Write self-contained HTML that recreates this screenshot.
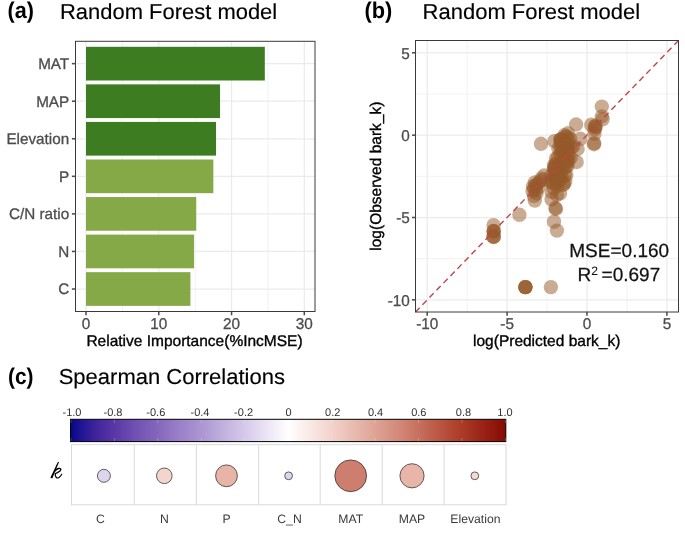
<!DOCTYPE html>
<html>
<head>
<meta charset="utf-8">
<title>Random Forest model figure</title>
<style>
html,body{margin:0;padding:0;background:#fff;}
body{width:685px;height:538px;overflow:hidden;font-family:"Liberation Sans",sans-serif;}
svg{display:block;will-change:transform;}
svg text{font-family:"Liberation Sans",sans-serif;text-rendering:geometricPrecision;}
.tk{fill:#4d4d4d;font-size:15.3px;stroke:#4d4d4d;stroke-width:0.3px;}
.tky{fill:#4d4d4d;font-size:15.25px;stroke:#4d4d4d;stroke-width:0.3px;}
.ax{fill:#000;font-size:15.5px;stroke:#000;stroke-width:0.35px;}
.ttl{fill:#000;font-size:21.6px;stroke:#000;stroke-width:0.15px;}
.ttlb{fill:#000;font-size:22.8px;font-weight:bold;}
.grid{stroke:#ebebeb;stroke-width:1.25;fill:none;}
.gridm{stroke:#efefef;stroke-width:0.8;fill:none;}
.tick{stroke:#4d4d4d;stroke-width:1.55;fill:none;}
.cb{fill:#333;font-size:11px;}
.cl{fill:#3a3a3a;font-size:12.2px;}
.pt{fill:#96592a;fill-opacity:0.5;}
</style>
</head>
<body>
<svg width="685" height="538" viewBox="0 0 685 538">
<defs>
<linearGradient id="cbar" x1="0" y1="0" x2="1" y2="0">
<stop offset="0" stop-color="#06068a"/>
<stop offset="0.035" stop-color="#2a1a95"/>
<stop offset="0.065" stop-color="#45279f"/>
<stop offset="0.1" stop-color="#5836a5"/>
<stop offset="0.15" stop-color="#7151b2"/>
<stop offset="0.2" stop-color="#8466bc"/>
<stop offset="0.25" stop-color="#9a80c8"/>
<stop offset="0.3" stop-color="#ab95d2"/>
<stop offset="0.35" stop-color="#c0b0de"/>
<stop offset="0.4" stop-color="#d5c9ea"/>
<stop offset="0.45" stop-color="#ebe4f5"/>
<stop offset="0.5" stop-color="#ffffff"/>
<stop offset="0.6" stop-color="#f3d3cb"/>
<stop offset="0.75" stop-color="#d48b7b"/>
<stop offset="0.88" stop-color="#b2442f"/>
<stop offset="1" stop-color="#860a02"/>
</linearGradient>
<clipPath id="clipb"><rect x="415.5" y="40.5" width="263" height="271.5"/></clipPath>
</defs>
<rect x="0" y="0" width="685" height="538" fill="#ffffff"/>

<g id="panel-a">
<text class="ttlb" x="7.6" y="18.3" textLength="26.4" lengthAdjust="spacingAndGlyphs">(a)</text>
<text class="ttl" x="60.0" y="19.3" textLength="217.2" lengthAdjust="spacingAndGlyphs">Random Forest model</text>
<g class="gridm">
<line x1="122.38" y1="41.3" x2="122.38" y2="311.5"/>
<line x1="195.16" y1="41.3" x2="195.16" y2="311.5"/>
<line x1="267.93" y1="41.3" x2="267.93" y2="311.5"/>
</g><g class="grid">
<line x1="86" y1="41.3" x2="86" y2="311.5"/>
<line x1="158.77" y1="41.3" x2="158.77" y2="311.5"/>
<line x1="231.54" y1="41.3" x2="231.54" y2="311.5"/>
<line x1="304.31" y1="41.3" x2="304.31" y2="311.5"/>
<line x1="75.5" y1="63.65" x2="315" y2="63.65"/>
<line x1="75.5" y1="101.21" x2="315" y2="101.21"/>
<line x1="75.5" y1="138.77" x2="315" y2="138.77"/>
<line x1="75.5" y1="176.33" x2="315" y2="176.33"/>
<line x1="75.5" y1="213.89" x2="315" y2="213.89"/>
<line x1="75.5" y1="251.45" x2="315" y2="251.45"/>
<line x1="75.5" y1="289.01" x2="315" y2="289.01"/>
</g>
<rect x="86" y="46.8" width="178.8" height="33.7" fill="#3e7c22"/>
<rect x="86" y="84.36" width="134.04" height="33.7" fill="#3e7c22"/>
<rect x="86" y="121.92" width="130.04" height="33.7" fill="#3e7c22"/>
<rect x="86" y="159.48" width="127.35" height="33.7" fill="#85a947"/>
<rect x="86" y="197.04" width="110.25" height="33.7" fill="#85a947"/>
<rect x="86" y="234.6" width="108.06" height="33.7" fill="#85a947"/>
<rect x="86" y="272.16" width="104.42" height="33.7" fill="#85a947"/>
<rect x="75.5" y="41.3" width="239.5" height="270.2" fill="none" stroke="#3a3a3a" stroke-width="1"/>
<g class="tick">
<line x1="71.9" y1="63.65" x2="75.5" y2="63.65"/>
<line x1="71.9" y1="101.21" x2="75.5" y2="101.21"/>
<line x1="71.9" y1="138.77" x2="75.5" y2="138.77"/>
<line x1="71.9" y1="176.33" x2="75.5" y2="176.33"/>
<line x1="71.9" y1="213.89" x2="75.5" y2="213.89"/>
<line x1="71.9" y1="251.45" x2="75.5" y2="251.45"/>
<line x1="71.9" y1="289.01" x2="75.5" y2="289.01"/>
<line x1="86" y1="311.5" x2="86" y2="315.3"/>
<line x1="158.77" y1="311.5" x2="158.77" y2="315.3"/>
<line x1="231.54" y1="311.5" x2="231.54" y2="315.3"/>
<line x1="304.31" y1="311.5" x2="304.31" y2="315.3"/>
</g>
<g class="tky" text-anchor="end">
<text x="69.2" y="68.95">MAT</text>
<text x="69.2" y="106.51">MAP</text>
<text x="69.2" y="144.07">Elevation</text>
<text x="69.2" y="181.63">P</text>
<text x="69.2" y="219.19">C/N ratio</text>
<text x="69.2" y="256.75">N</text>
<text x="69.2" y="294.31">C</text>
</g>
<g class="tk" text-anchor="middle">
<text transform="translate(86,328.8) scale(1,1.02)">0</text>
<text transform="translate(158.77,328.8) scale(1,1.02)">10</text>
<text transform="translate(231.54,328.8) scale(1,1.02)">20</text>
<text transform="translate(304.31,328.8) scale(1,1.02)">30</text>
</g>
<text class="ax" x="86.4" y="346.4">Relative Importance(%IncMSE)</text>
</g>
<g id="panel-b">
<text class="ttlb" x="364.4" y="18.2" textLength="27.8" lengthAdjust="spacingAndGlyphs">(b)</text>
<text class="ttl" x="422.6" y="19.1" textLength="217.6" lengthAdjust="spacingAndGlyphs">Random Forest model</text>
<g class="gridm">
<line x1="467.15" y1="40.5" x2="467.15" y2="312"/>
<line x1="415.5" y1="258.68" x2="678.5" y2="258.68"/>
<line x1="547.05" y1="40.5" x2="547.05" y2="312"/>
<line x1="415.5" y1="176.32" x2="678.5" y2="176.32"/>
<line x1="626.95" y1="40.5" x2="626.95" y2="312"/>
<line x1="415.5" y1="93.98" x2="678.5" y2="93.98"/>
</g><g class="grid">
<line x1="427.2" y1="40.5" x2="427.2" y2="312"/>
<line x1="415.5" y1="299.85" x2="678.5" y2="299.85"/>
<line x1="507.1" y1="40.5" x2="507.1" y2="312"/>
<line x1="415.5" y1="217.5" x2="678.5" y2="217.5"/>
<line x1="587" y1="40.5" x2="587" y2="312"/>
<line x1="415.5" y1="135.15" x2="678.5" y2="135.15"/>
<line x1="666.9" y1="40.5" x2="666.9" y2="312"/>
<line x1="415.5" y1="52.8" x2="678.5" y2="52.8"/>
</g>
<g class="pt" clip-path="url(#clipb)">
<circle cx="601.8" cy="106.6" r="7.2"/>
<circle cx="601.8" cy="116.5" r="7.2"/>
<circle cx="602.6" cy="119.3" r="7.2"/>
<circle cx="591.2" cy="124.8" r="7.2"/>
<circle cx="595.3" cy="125.8" r="7.2"/>
<circle cx="595" cy="126.6" r="7.2"/>
<circle cx="595.6" cy="127.4" r="7.2"/>
<circle cx="594.7" cy="129.5" r="7.2"/>
<circle cx="594.4" cy="133.8" r="7.2"/>
<circle cx="594" cy="144.2" r="7.2"/>
<circle cx="594.2" cy="143.2" r="7.2"/>
<circle cx="576.1" cy="124.5" r="7.2"/>
<circle cx="580.4" cy="138.8" r="7.2"/>
<circle cx="577.6" cy="149" r="7.2"/>
<circle cx="576.7" cy="162" r="7.2"/>
<circle cx="554.4" cy="141.2" r="7.2"/>
<circle cx="541" cy="143.8" r="7.2"/>
<circle cx="568" cy="133.3" r="7.2"/>
<circle cx="564.6" cy="135.2" r="7.2"/>
<circle cx="567" cy="136.5" r="7.2"/>
<circle cx="565.36" cy="136.94" r="7.2"/>
<circle cx="570.09" cy="138.59" r="7.2"/>
<circle cx="568.19" cy="140.06" r="7.2"/>
<circle cx="560.85" cy="139.56" r="7.2"/>
<circle cx="560.36" cy="139.92" r="7.2"/>
<circle cx="560.67" cy="139.4" r="7.2"/>
<circle cx="565.82" cy="144.41" r="7.2"/>
<circle cx="561.13" cy="141.59" r="7.2"/>
<circle cx="568.51" cy="147.11" r="7.2"/>
<circle cx="567.59" cy="145.45" r="7.2"/>
<circle cx="573.4" cy="146.27" r="7.2"/>
<circle cx="571.46" cy="147.53" r="7.2"/>
<circle cx="560.57" cy="144.9" r="7.2"/>
<circle cx="562.86" cy="149.04" r="7.2"/>
<circle cx="560.77" cy="148.35" r="7.2"/>
<circle cx="567.46" cy="149.96" r="7.2"/>
<circle cx="565.92" cy="149.11" r="7.2"/>
<circle cx="558.43" cy="148.59" r="7.2"/>
<circle cx="567.56" cy="152.53" r="7.2"/>
<circle cx="561.89" cy="152.52" r="7.2"/>
<circle cx="563.81" cy="152.63" r="7.2"/>
<circle cx="568.75" cy="156.23" r="7.2"/>
<circle cx="560.32" cy="154.4" r="7.2"/>
<circle cx="564.36" cy="157.39" r="7.2"/>
<circle cx="567.25" cy="156.54" r="7.2"/>
<circle cx="570.84" cy="157.53" r="7.2"/>
<circle cx="562.23" cy="158.71" r="7.2"/>
<circle cx="558.07" cy="157.37" r="7.2"/>
<circle cx="556.2" cy="158.39" r="7.2"/>
<circle cx="566.91" cy="161.46" r="7.2"/>
<circle cx="568.39" cy="161.57" r="7.2"/>
<circle cx="565.52" cy="162.74" r="7.2"/>
<circle cx="563.61" cy="162.49" r="7.2"/>
<circle cx="567.34" cy="166.15" r="7.2"/>
<circle cx="561.67" cy="164.38" r="7.2"/>
<circle cx="555.3" cy="163.71" r="7.2"/>
<circle cx="563.92" cy="167.81" r="7.2"/>
<circle cx="566.37" cy="166.36" r="7.2"/>
<circle cx="559.65" cy="166.99" r="7.2"/>
<circle cx="554.03" cy="165.53" r="7.2"/>
<circle cx="556.04" cy="165.43" r="7.2"/>
<circle cx="554.23" cy="168.36" r="7.2"/>
<circle cx="555.11" cy="167.27" r="7.2"/>
<circle cx="558.86" cy="171.47" r="7.2"/>
<circle cx="554.03" cy="169.35" r="7.2"/>
<circle cx="560.88" cy="173.58" r="7.2"/>
<circle cx="564.76" cy="175.24" r="7.2"/>
<circle cx="556.47" cy="172.15" r="7.2"/>
<circle cx="557.5" cy="175.05" r="7.2"/>
<circle cx="566.31" cy="175.1" r="7.2"/>
<circle cx="554.41" cy="173.22" r="7.2"/>
<circle cx="555.1" cy="175.18" r="7.2"/>
<circle cx="560.26" cy="176.35" r="7.2"/>
<circle cx="551.31" cy="175.51" r="7.2"/>
<circle cx="556.61" cy="178.2" r="7.2"/>
<circle cx="565.19" cy="181.62" r="7.2"/>
<circle cx="558.45" cy="180.42" r="7.2"/>
<circle cx="560.69" cy="179.5" r="7.2"/>
<circle cx="563.87" cy="183.97" r="7.2"/>
<circle cx="563.32" cy="184.68" r="7.2"/>
<circle cx="555.91" cy="182" r="7.2"/>
<circle cx="551.4" cy="182.59" r="7.2"/>
<circle cx="550.61" cy="180.9" r="7.2"/>
<circle cx="552.63" cy="182.56" r="7.2"/>
<circle cx="534.9" cy="182.4" r="7.2"/>
<circle cx="535.5" cy="185.5" r="7.2"/>
<circle cx="534.2" cy="188.5" r="7.2"/>
<circle cx="537.2" cy="184" r="7.2"/>
<circle cx="533" cy="186.5" r="7.2"/>
<circle cx="536" cy="190.3" r="7.2"/>
<circle cx="538.5" cy="187.5" r="7.2"/>
<circle cx="532.5" cy="191" r="7.2"/>
<circle cx="536.5" cy="193.5" r="7.2"/>
<circle cx="534.8" cy="200.6" r="7.2"/>
<circle cx="534" cy="196" r="7.2"/>
<circle cx="544.2" cy="175.5" r="7.2"/>
<circle cx="541.5" cy="178.5" r="7.2"/>
<circle cx="540" cy="181.5" r="7.2"/>
<circle cx="543" cy="180" r="7.2"/>
<circle cx="560" cy="193.5" r="7.2"/>
<circle cx="551.6" cy="191.8" r="7.2"/>
<circle cx="556.9" cy="195" r="7.2"/>
<circle cx="551.6" cy="199.4" r="7.2"/>
<circle cx="556" cy="209" r="7.2"/>
<circle cx="555.4" cy="208" r="7.2"/>
<circle cx="554" cy="221.7" r="7.2"/>
<circle cx="556.9" cy="230.6" r="7.2"/>
<circle cx="557" cy="186" r="7.2"/>
<circle cx="553.5" cy="188" r="7.2"/>
<circle cx="519.4" cy="214.8" r="7.2"/>
<circle cx="493.6" cy="225.2" r="7.2"/>
<circle cx="493.6" cy="231" r="7.2"/>
<circle cx="493.7" cy="231.5" r="7.2"/>
<circle cx="493.6" cy="236.8" r="7.2"/>
<circle cx="493.6" cy="236.4" r="7.2"/>
<circle cx="493.8" cy="231.2" r="7.2"/>
<circle cx="493.7" cy="237" r="7.2"/>
<circle cx="525.4" cy="287.1" r="7.2"/>
<circle cx="525.4" cy="287.1" r="7.2"/>
<circle cx="525.4" cy="287.1" r="7.2"/>
<circle cx="525.4" cy="287.1" r="7.2"/>
<circle cx="550.9" cy="287.1" r="7.2"/>
</g>
<line x1="415.5" y1="312" x2="678.5" y2="40.5" stroke="#c0444a" stroke-width="1.4" stroke-dasharray="6,4.054" stroke-dashoffset="0"/>
<rect x="415.5" y="40.5" width="263" height="271.5" fill="none" stroke="#3a3a3a" stroke-width="1"/>
<g class="tick">
<line x1="412" y1="299.85" x2="415.5" y2="299.85"/>
<line x1="427.2" y1="312" x2="427.2" y2="315.8"/>
<line x1="412" y1="217.5" x2="415.5" y2="217.5"/>
<line x1="507.1" y1="312" x2="507.1" y2="315.8"/>
<line x1="412" y1="135.15" x2="415.5" y2="135.15"/>
<line x1="587" y1="312" x2="587" y2="315.8"/>
<line x1="412" y1="52.8" x2="415.5" y2="52.8"/>
<line x1="666.9" y1="312" x2="666.9" y2="315.8"/>
</g>
<g class="tk" text-anchor="end">
<text transform="translate(409.8,58.6) scale(1,1.02)">5</text>
<text transform="translate(409.8,140.95) scale(1,1.02)">0</text>
<text transform="translate(409.8,223.3) scale(1,1.02)">-5</text>
<text transform="translate(409.8,305.65) scale(1,1.02)">-10</text>
</g>
<g class="tk" text-anchor="middle">
<text transform="translate(427.2,328.8) scale(1,1.02)">-10</text>
<text transform="translate(507.1,328.8) scale(1,1.02)">-5</text>
<text transform="translate(587,328.8) scale(1,1.02)">0</text>
<text transform="translate(666.9,328.8) scale(1,1.02)">5</text>
</g>
<text class="ax" x="546.7" y="346.3" text-anchor="middle">log(Predicted bark_k)</text>
<text class="ax" transform="translate(380.8,176.2) rotate(-90)" text-anchor="middle">log(Observed bark_k)</text>
<text x="569.3" y="257" font-size="19" fill="#111" stroke="#111" stroke-width="0.25">MSE=0.160</text>
<text x="577.6" y="281.4" font-size="19" fill="#111" stroke="#111" stroke-width="0.25">R</text>
<text x="591.2" y="275.2" font-size="12.2" fill="#111">2</text>
<text x="601.6" y="281.4" font-size="19" fill="#111" stroke="#111" stroke-width="0.25">=0.697</text>
</g>
<g id="panel-c">
<text class="ttlb" x="8.0" y="384" textLength="25.6" lengthAdjust="spacingAndGlyphs">(c)</text>
<text class="ttl" x="58.7" y="384.3" textLength="226.2" lengthAdjust="spacingAndGlyphs">Spearman Correlations</text>
<g class="cb" text-anchor="middle">
<text x="72" y="415.5">-1.0</text>
<text x="113" y="415.5">-0.8</text>
<text x="155.8" y="415.5">-0.6</text>
<text x="200" y="415.5">-0.4</text>
<text x="243.6" y="415.5">-0.2</text>
<text x="288.5" y="415.5">0</text>
<text x="332.7" y="415.5">0.2</text>
<text x="375.6" y="415.5">0.4</text>
<text x="418.8" y="415.5">0.6</text>
<text x="463.5" y="415.5">0.8</text>
<text x="505" y="415.5">1.0</text>
</g>
<rect x="70.5" y="419.3" width="435.3" height="22.3" fill="url(#cbar)" stroke="#000" stroke-width="1"/>
<g stroke="#ffffff" stroke-opacity="0.3" stroke-width="0.8">
<line x1="70.95" y1="419.8" x2="70.95" y2="423" /><line x1="70.95" y1="437.9" x2="70.95" y2="441.1" />
<line x1="114.4" y1="419.8" x2="114.4" y2="423" /><line x1="114.4" y1="437.9" x2="114.4" y2="441.1" />
<line x1="157.85" y1="419.8" x2="157.85" y2="423" /><line x1="157.85" y1="437.9" x2="157.85" y2="441.1" />
<line x1="201.3" y1="419.8" x2="201.3" y2="423" /><line x1="201.3" y1="437.9" x2="201.3" y2="441.1" />
<line x1="244.75" y1="419.8" x2="244.75" y2="423" /><line x1="244.75" y1="437.9" x2="244.75" y2="441.1" />
<line x1="288.2" y1="419.8" x2="288.2" y2="423" /><line x1="288.2" y1="437.9" x2="288.2" y2="441.1" />
<line x1="331.65" y1="419.8" x2="331.65" y2="423" /><line x1="331.65" y1="437.9" x2="331.65" y2="441.1" />
<line x1="375.1" y1="419.8" x2="375.1" y2="423" /><line x1="375.1" y1="437.9" x2="375.1" y2="441.1" />
<line x1="418.55" y1="419.8" x2="418.55" y2="423" /><line x1="418.55" y1="437.9" x2="418.55" y2="441.1" />
<line x1="462" y1="419.8" x2="462" y2="423" /><line x1="462" y1="437.9" x2="462" y2="441.1" />
<line x1="505.45" y1="419.8" x2="505.45" y2="423" /><line x1="505.45" y1="437.9" x2="505.45" y2="441.1" />
</g>
<g fill="none" stroke="#d9d9d9" stroke-width="1">
<rect x="71.5" y="444.7" width="434.5" height="60.1"/>
<line x1="134.3" y1="444.7" x2="134.3" y2="504.8"/>
<line x1="196.4" y1="444.7" x2="196.4" y2="504.8"/>
<line x1="258.7" y1="444.7" x2="258.7" y2="504.8"/>
<line x1="320.2" y1="444.7" x2="320.2" y2="504.8"/>
<line x1="382.2" y1="444.7" x2="382.2" y2="504.8"/>
<line x1="444.1" y1="444.7" x2="444.1" y2="504.8"/>
</g>
<g stroke="#222" stroke-width="0.7">
<circle cx="103.9" cy="475.8" r="6.5" fill="#ddd5ee"/>
<circle cx="164.3" cy="475.8" r="7.8" fill="#f3d5cd"/>
<circle cx="226.5" cy="475.8" r="10.9" fill="#e8b4a8"/>
<circle cx="288.6" cy="475.8" r="3.9" fill="#ddd5ee"/>
<circle cx="350.7" cy="475.8" r="15.9" fill="#cd7e6e"/>
<circle cx="412" cy="475.8" r="12.1" fill="#e9b5a8"/>
<circle cx="474.8" cy="475.8" r="3.9" fill="#f6d9d3"/>
</g>
<path d="M59.15 461.85 L57.7 462.25 L50.4 477.75 L52.3 478.4 Z" fill="#000"/>
<path d="M54.5 471.2 C55.6 469.9 57.0 468.9 58.4 468.5 C59.8 468.1 60.9 468.6 60.8 469.7 C60.7 470.9 59.0 471.9 57.4 472.6 C56.4 473.0 55.7 473.3 55.3 473.7" fill="none" stroke="#000" stroke-width="1.4" stroke-linecap="round" stroke-linejoin="round"/>
<path d="M55.3 473.7 C55.1 474.9 55.4 476.5 56.3 477.5 C57.2 478.5 58.8 478.0 59.9 476.7 C60.7 475.8 61.2 475.0 61.7 474.2" fill="none" stroke="#000" stroke-width="1.15" stroke-linecap="round" stroke-linejoin="round"/>
<g class="cl" text-anchor="middle">
<text x="100.3" y="523.3">C</text>
<text x="164.3" y="523.3">N</text>
<text x="226.5" y="523.3">P</text>
<text x="289.5" y="523.3">C_N</text>
<text x="350.7" y="523.3">MAT</text>
<text x="412" y="523.3">MAP</text>
<text x="475.4" y="523.3">Elevation</text>
</g>
</g>
</svg>
</body>
</html>
